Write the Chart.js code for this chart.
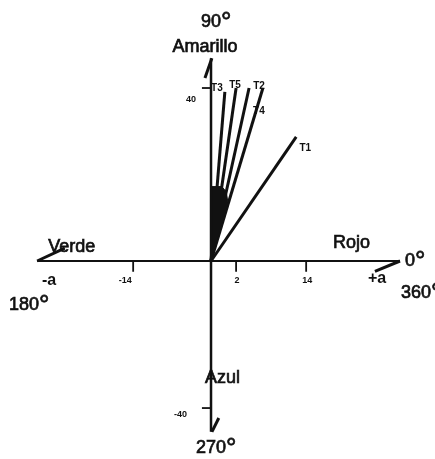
<!DOCTYPE html>
<html>
<head>
<meta charset="utf-8">
<script src="https://cdn.jsdelivr.net/npm/chart.js@4.4.0/dist/chart.umd.min.js"></script>
<style>
    body { margin: 0; background: #fff; }
    canvas { display: block; }
</style>
</head>
<body>
<canvas id="tonosChart" width="435" height="459"></canvas>
<script>
// Vectores de tono en el plano a*, b* (unidades del esquema)
const tonos = ['T1', 'T2', 'T3', 'T4', 'T5'];
const aTono = [19.7, 8.8, 3.2, 12.0, 5.8];
const bTono = [28.7, 40.0, 39.1, 40.0, 40.0];

// Ejes: extremos de -a a +a y de -b a +b
const ejeA = [-40.2, 43.7];
const ejeB = [-39.5, 46.9];

// Marcas de los ejes
const marcasA = [-18.0, 5.8, 22.0];
const etiquetasA = ['-14', '2', '14'];
const marcasB = [40, -34.0];
const etiquetasB = ['40', '-40'];

const negro = '#111';
const fuente = '"Liberation Sans", Arial, sans-serif';

function segmento(puntos, ancho) {
    return {
        data: puntos,
        showLine: true,
        borderColor: negro,
        borderWidth: ancho,
        pointRadius: 0,
        fill: false
    };
}

const datasets = [];

// ejes
datasets.push(segmento([{ x: ejeA[0], y: 0 }, { x: ejeA[1], y: 0 }], 2));
datasets.push(segmento([{ x: 0, y: ejeB[1] }, { x: 0, y: ejeB[0] }], 2.5));

// puntas inclinadas en los extremos de los ejes
datasets.push(segmento([{ x: 0.2, y: ejeB[1] }, { x: -1.4, y: ejeB[1] - 4.6 }], 3));
datasets.push(segmento([{ x: 0.2, y: ejeB[0] }, { x: 1.8, y: ejeB[0] + 3.2 }], 3));
datasets.push(segmento([{ x: ejeA[0], y: 0 }, { x: ejeA[0] + 6.4, y: 3.0 }], 3));
datasets.push(segmento([{ x: ejeA[1], y: 0 }, { x: ejeA[1] - 5.8, y: -2.4 }], 3));

// marcas
marcasA.forEach(v => datasets.push(segmento([{ x: v, y: 0 }, { x: v, y: -2.5 }], 1.8)));
marcasB.forEach(v => datasets.push(segmento([{ x: -2.1, y: v }, { x: 0, y: v }], 1.8)));

// cuña oscura donde convergen los vectores, cada vez más baja hacia la derecha
const orden = [2, 4, 1, 3];          // T3, T5, T2, T4 de izquierda a derecha
const alturas = [0.44, 0.43, 0.40, 0.33];
const cuna = [{ x: 0, y: 0 }, { x: 0, y: alturas[0] * bTono[orden[0]] }];
orden.forEach((i, j) => cuna.push({ x: alturas[j] * aTono[i], y: alturas[j] * bTono[i] }));
cuna.push({ x: 0, y: 0 });
datasets.push({
    data: cuna,
    showLine: true,
    borderColor: negro,
    borderWidth: 1,
    backgroundColor: negro,
    pointRadius: 0,
    tension: 0,
    fill: 'shape'
});

// vectores de tono
tonos.forEach((t, i) => {
    datasets.push(segmento([{ x: 0, y: 0 }, { x: aTono[i], y: bTono[i] }], 3));
});

// texto con trazo fino para darle algo más de cuerpo
function texto(ctx, s, x, y) {
    ctx.fillText(s, x, y);
    ctx.strokeText(s, x, y);
}

function grados(ctx, num, x, y) {
    ctx.font = '18px ' + fuente;
    ctx.textAlign = 'left';
    texto(ctx, num, x, y);
    const w = ctx.measureText(num).width;
    ctx.font = '26px ' + fuente;
    texto(ctx, '°', x + w, y + 3);
}

// desplazamientos de las etiquetas de cada vector respecto a su extremo
const despTono = {
    T1: [9, 14],
    T2: [10, 1],
    T3: [-8, -1],
    T4: [-4, 26],
    T5: [-1, 0]
};

const rotulos = {
    id: 'rotulos',
    afterDatasetsDraw(chart) {
        const { ctx, scales: { x, y } } = chart;
        const px = v => x.getPixelForValue(v);
        const py = v => y.getPixelForValue(v);
        const x0 = px(0), y0 = py(0);

        ctx.save();
        ctx.fillStyle = negro;
        ctx.strokeStyle = negro;
        ctx.lineWidth = 0.7;
        ctx.textBaseline = 'alphabetic';

        // nombres de los colores
        ctx.font = '18px ' + fuente;
        ctx.textAlign = 'center';
        texto(ctx, 'Amarillo', x0 - 6, py(ejeB[1]) - 6);
        ctx.textAlign = 'left';
        texto(ctx, 'Verde', px(ejeA[0]) + 11, y0 - 9);
        texto(ctx, 'Rojo', px(ejeA[1]) - 67, y0 - 13);
        texto(ctx, 'Azul', x0 - 6, py(ejeB[0]) - 49);

        // ángulos
        grados(ctx, '90', x0 - 10, 27);
        grados(ctx, '0', px(ejeA[1]) + 5, y0 + 5);
        grados(ctx, '360', px(ejeA[1]) + 1, y0 + 37);
        grados(ctx, '180', 9, y0 + 49);
        grados(ctx, '270', x0 - 15, py(ejeB[0]) + 21);

        // extremos -a / +a
        ctx.font = 'bold 16px ' + fuente;
        ctx.textAlign = 'center';
        ctx.fillText('-a', px(ejeA[0]) + 12, y0 + 24);
        ctx.fillText('+a', px(ejeA[1]) - 23, y0 + 22);

        // etiquetas de las marcas
        ctx.font = 'bold 9px ' + fuente;
        marcasA.forEach((v, i) => {
            const dx = etiquetasA[i].startsWith('-') ? -8 : 1;
            ctx.fillText(etiquetasA[i], px(v) + dx, y0 + 22);
        });
        ctx.textAlign = 'right';
        ctx.fillText(etiquetasB[0], x0 - 15, py(marcasB[0]) + 14);
        ctx.fillText(etiquetasB[1], x0 - 24, py(marcasB[1]) + 9);

        // nombres de los vectores
        ctx.font = 'bold 10px ' + fuente;
        ctx.textAlign = 'center';
        tonos.forEach((t, i) => {
            const d = despTono[t];
            ctx.fillText(t, px(aTono[i]) + d[0], py(bTono[i]) + d[1]);
        });

        ctx.restore();
    }
};

new Chart(document.getElementById('tonosChart'), {
    type: 'scatter',
    data: { datasets: datasets },
    options: {
        responsive: false,
        animation: false,
        layout: { padding: 0 },
        scales: {
            x: { type: 'linear', min: -48.79, max: 51.79, display: false },
            y: { type: 'linear', min: -45.78, max: 60.35, display: false }
        },
        plugins: {
            legend: { display: false },
            tooltip: { enabled: false }
        }
    },
    plugins: [rotulos]
});
</script>
</body>
</html>
